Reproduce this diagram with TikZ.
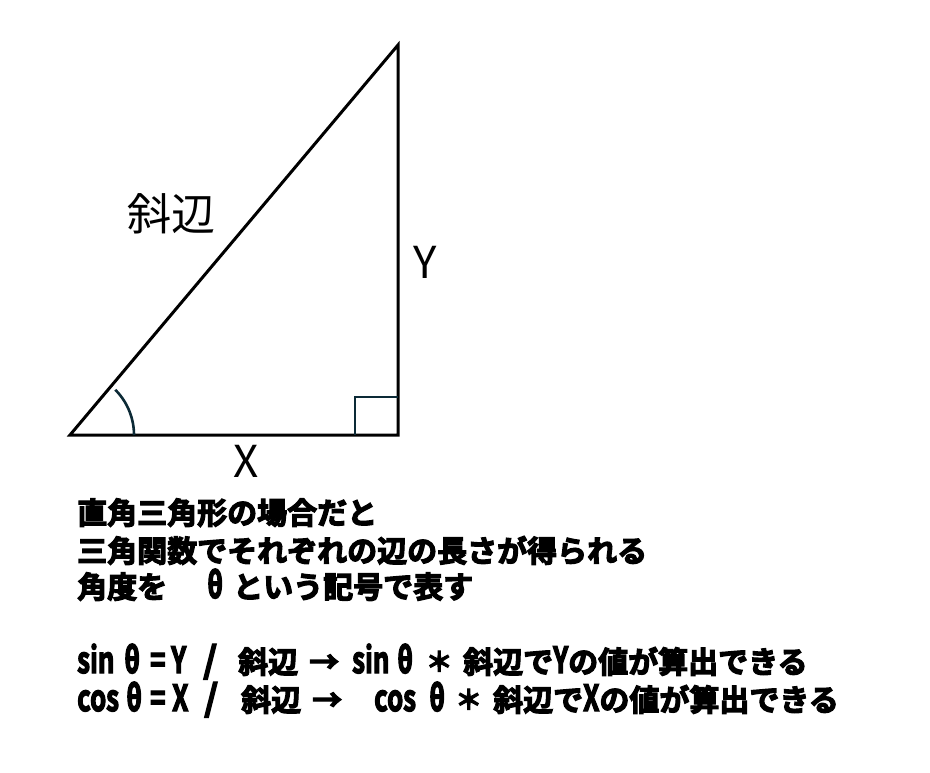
\documentclass[tikz,border=0pt]{standalone}
\usepackage{fontspec}
\newfontfamily\cjk{Noto Sans CJK JP}
\newfontfamily\cjkb{Noto Sans CJK JP}[UprightFont=* Bold, UprightFeatures={FakeBold=4}]
\definecolor{markcol}{HTML}{0C2A36}
\newcommand\tk[2]{\makebox[#1pt][l]{#2}}
\newcommand\tkc[2]{\makebox[#1pt][c]{#2}}
\newcommand\lat[1]{\scalebox{0.72}[1]{\fontsize{36}{38}\selectfont #1}}
\newcommand\slsh{\hspace{3pt}{\fontsize{36}{38}\selectfont /}}
\newcommand\myast{\hspace{-16pt}\raisebox{1.5pt}{\scalebox{0.9}{＊}}}
\begin{document}
\begin{tikzpicture}[x=1pt,y=-1pt,
  side/.style={line width=3pt,black},
  markline/.style={line width=2.6pt,draw=markcol},
  thinlbl/.style={font=\cjk\fontsize{44}{48}\selectfont,inner sep=0pt},
  boldline/.style={font=\cjkb\fontsize{30}{36}\selectfont,inner sep=0pt,anchor=base west}]
\useasboundingbox (0,0) rectangle (930,772);
\coordinate (A) at (70,435);
\coordinate (B) at (398,435);
\coordinate (C) at (398,45);
\draw[side,line join=miter] (A) -- (B) -- (C) -- cycle;
\draw[markline] (355,435) -- (355,397) -- (398,397);
\draw[markline] (134,435) arc[start angle=0,end angle=-45,radius=64];
\node[thinlbl] (hyp) at (171,214) {斜辺};
\node[thinlbl] (ylbl) at (425,262) {Y};
\node[thinlbl] (xlbl) at (246,461) {X};
\node[boldline] (l1) at (77,524) {直角三角形の場合だと};
\node[boldline] (l2) at (77,562) {三角関数でそれぞれの辺の長さが得られる};
\node[boldline] (l3) at (77,598) {角度を\tk{66}{\hspace{40pt}\lat{θ}}という記号で表す};
\node[boldline] (l4) at (77,673) {\tk{47}{\lat{sin}}\tk{26}{\lat{θ}}\tk{21}{\lat{=}}\tk{29}{\lat{Y}}\tk{38}{\slsh}\tk{71}{斜辺}\tk{43}{→}\tk{45}{\lat{sin}}\tk{34}{\lat{θ}}\tkc{32}{\myast}斜辺で\lat{Y}の値が算出できる};
\node[boldline] (l5) at (77,711) {\tk{49}{\lat{cos}}\tk{24}{\lat{θ}}\tk{22}{\lat{=}}\tk{29}{\lat{X}}\tk{40}{\slsh}\tk{71}{斜辺}\tk{62}{→}\tk{55}{\lat{cos}}\tk{31}{\lat{θ}}\tkc{33}{\myast}斜辺で\lat{X}の値が算出できる};
\end{tikzpicture}
\end{document}
